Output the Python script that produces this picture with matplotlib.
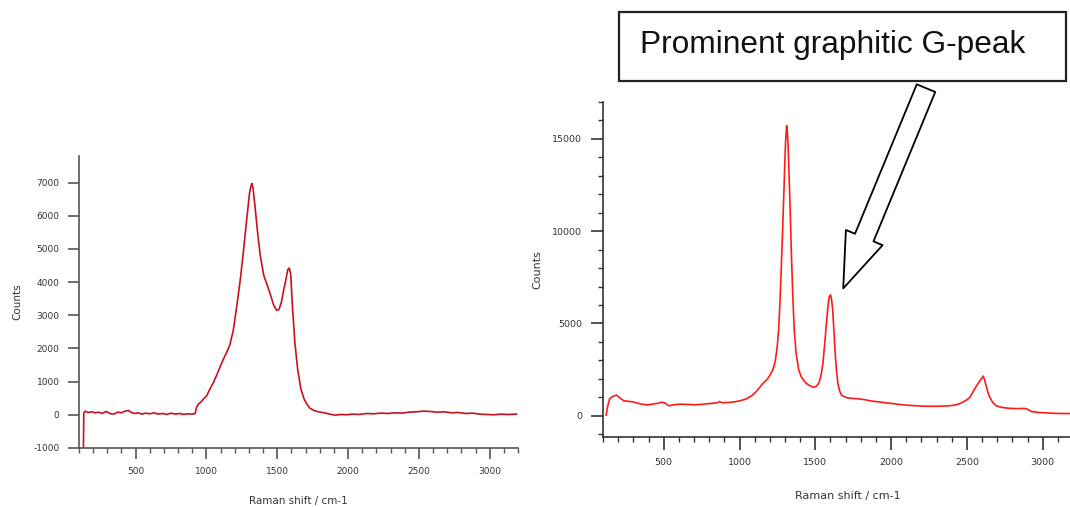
import matplotlib
matplotlib.use("Agg")
import matplotlib.pyplot as plt
import matplotlib.ticker as ticker
from matplotlib.patches import Rectangle

plt.rcParams["axes.unicode_minus"] = False

# left spectrum
left_shift = [131, 134, 145, 165, 190, 215, 240, 265, 290, 310, 330, 350, 375, 400,
              425, 450, 470, 495, 520, 545, 570, 600, 630, 660, 690, 720, 750, 780,
              810, 840, 870, 900, 920, 930, 945, 960, 980, 1000, 1025, 1050, 1070,
              1095, 1120, 1145, 1165, 1190, 1215, 1240, 1262, 1286, 1305, 1315, 1322,
              1330, 1345, 1360, 1380, 1405, 1430, 1455, 1475, 1495, 1512, 1530, 1545,
              1560, 1575, 1585, 1595, 1607, 1625, 1645, 1667, 1690, 1710, 1730, 1760,
              1790, 1830, 1870, 1910, 1950, 1990, 2030, 2080, 2130, 2180, 2230, 2280,
              2330, 2380, 2430, 2480, 2530, 2580, 2630, 2680, 2730, 2780, 2830, 2880,
              2930, 2980, 3030, 3080, 3130, 3190]
left_counts = [-1200, 60, 110, 70, 90, 60, 80, 40, 100, 60, 20, 30, 80, 60,
               110, 130, 70, 40, 60, 20, 50, 30, 60, 20, 40, 10, 50, 20,
               40, 10, 30, 20, 40, 220, 330, 380, 480, 560, 780, 980, 1170,
               1430, 1680, 1900, 2100, 2550, 3300, 4100, 4950, 5950, 6700, 6900, 6970,
               6800, 6200, 5550, 4800, 4200, 3900, 3580, 3300, 3150, 3170, 3400, 3750,
               4050, 4380, 4420, 4250, 3300, 2150, 1350, 780, 470, 320, 200, 130,
               90, 60, 20, -10, 10, 0, 20, 10, 40, 30, 50, 40,
               60, 50, 80, 90, 110, 100, 80, 90, 60, 70, 40, 50,
               20, 10, 0, 20, 10, 20]

# right spectrum
right_shift = [121, 130, 144, 167, 190, 213, 236, 260, 282, 305, 328, 360, 397, 430,
               466, 489, 510, 534, 560, 603, 650, 700, 750, 810, 850, 868, 885, 930,
               970, 1010, 1040, 1063, 1085, 1109, 1135, 1155, 1180, 1201, 1220, 1235,
               1248, 1258, 1266, 1274, 1284, 1293, 1300, 1304, 1311, 1316, 1320, 1327,
               1334, 1342, 1350, 1360, 1373, 1390, 1408, 1425, 1442, 1465, 1488, 1505,
               1523, 1538, 1550, 1562, 1573, 1583, 1592, 1600, 1607, 1614, 1622, 1630,
               1640, 1649, 1660, 1672, 1700, 1729, 1770, 1821, 1870, 1913, 1960, 2005,
               2050, 2097, 2150, 2212, 2270, 2327, 2380, 2419, 2450, 2477, 2500, 2520,
               2546, 2565, 2580, 2595, 2608, 2617, 2626, 2637, 2649, 2670, 2695, 2740,
               2787, 2830, 2879, 2900, 2925, 2970, 3017, 3086, 3180]
right_counts = [40, 500, 940, 1060, 1120, 950, 820, 790, 770, 740, 680, 620, 590, 640,
                680, 740, 680, 540, 590, 630, 620, 600, 620, 670, 700, 770, 710, 720,
                760, 830, 900, 1000, 1120, 1300, 1560, 1760, 1950, 2200, 2500, 2920,
                3700, 4650, 6000, 7700, 10000, 12200, 14000, 14900, 15720, 15300, 14700, 13000,
                11200, 8800, 6800, 4800, 3400, 2500, 2100, 1900, 1750, 1620, 1540, 1590,
                1760, 2200, 2850, 3900, 5000, 5900, 6450, 6550, 6300, 5800, 4700, 3500,
                2400, 1750, 1350, 1120, 1000, 950, 930, 880, 800, 760, 710, 670,
                620, 580, 550, 520, 515, 520, 540, 580, 650, 760, 870, 1000,
                1390, 1650, 1840, 2000, 2150, 1900, 1650, 1300, 1030, 720, 530, 440,
                400, 390, 400, 350, 230, 180, 160, 130, 120]

note_text = "Prominent graphitic G-peak"


def style_axes(ax, col, major_len, tick_fs):
    for s in ("top", "right"):
        ax.spines[s].set_visible(False)
    for s in ("left", "bottom"):
        ax.spines[s].set_color(col)
        ax.spines[s].set_linewidth(1.2)
    ax.xaxis.set_major_locator(ticker.MultipleLocator(500))
    ax.xaxis.set_minor_locator(ticker.MultipleLocator(100))
    ax.tick_params(which="major", direction="out", length=major_len, width=1.2,
                   color=col, labelsize=tick_fs, labelcolor="#333333", pad=6)
    ax.tick_params(which="minor", direction="out", length=3.3, width=1.0, color=col)


fig = plt.figure(figsize=(10.7, 5.07), dpi=100)

# left panel
ax1 = fig.add_axes([0.0738, 0.1164, 0.4103, 0.576])
ax1.plot(left_shift, left_counts, color="#c8101e", lw=1.2)
ax1.set_xlim(100, 3200)
ax1.set_ylim(-1000, 7800)
style_axes(ax1, "#555555", 8, 6.5)
ax1.yaxis.set_major_locator(ticker.MultipleLocator(1000))
ax1.set_xlabel("Raman shift / cm-1", fontsize=7.5, color="#333333")
ax1.set_ylabel("Counts", fontsize=7.5, color="#333333")
ax1.xaxis.set_label_coords(0.5, -0.165)
ax1.yaxis.set_label_coords(-0.13, 0.5)

# right panel
ax2 = fig.add_axes([0.5636, 0.138, 0.4393, 0.661])
ax2.plot(right_shift, right_counts, color="#ff1a1a", lw=1.2)
ax2.set_xlim(100, 3200)
ax2.set_ylim(-1150, 17000)
style_axes(ax2, "#333333", 9, 6.8)
ax2.yaxis.set_major_locator(ticker.MultipleLocator(5000))
ax2.yaxis.set_minor_locator(ticker.MultipleLocator(1000))
ax2.set_xlabel("Raman shift / cm-1", fontsize=8, color="#333333")
ax2.set_ylabel("Counts", fontsize=8, color="#333333")
ax2.xaxis.set_label_coords(0.52, -0.16)
ax2.yaxis.set_label_coords(-0.13, 0.5)

# hollow block arrow pointing at the G-peak
ax2.annotate("", xy=(1684, 6900), xytext=(2230, 17745),
             annotation_clip=False,
             arrowprops=dict(arrowstyle="simple,head_length=1.98,head_width=1.43,tail_width=0.72",
                             fc="white", ec="black", lw=1.3, mutation_scale=20,
                             shrinkA=0, shrinkB=0))

# label box
fig.patches.append(Rectangle((0.5785, 0.8402), 0.4178, 0.1361, transform=fig.transFigure,
                             fill=False, ec="#222222", lw=1.6))
fig.text(0.598, 0.8955, note_text, fontsize=22.8, family="Liberation Sans",
         ha="left", va="baseline", color="#111111")

fig.savefig("out.png", dpi=100)
